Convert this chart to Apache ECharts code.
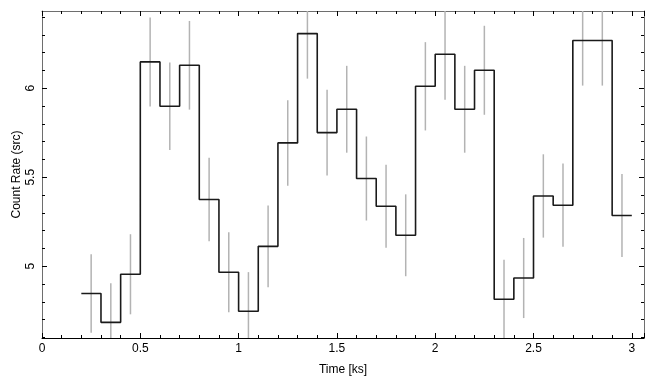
<!DOCTYPE html>
<html>
<head>
<meta charset="utf-8">
<script src="https://cdn.jsdelivr.net/npm/echarts@6/dist/echarts.min.js"></script>
<style>
html,body{margin:0;padding:0;background:#fff;}
#c{width:655px;height:385px;}
</style>
</head>
<body>
<div id="c"></div>
<script>
// Bin centres (ks), bin width 0.1 ks
const times = [0.25,0.35,0.45,0.55,0.65,0.75,0.85,0.95,1.05,1.15,1.25,1.35,1.45,1.55,1.65,1.75,1.85,1.95,2.05,2.15,2.25,2.35,2.45,2.55,2.65,2.75,2.85,2.95];
const binHalfWidth = 0.05;
const rates = [4.847,4.685,4.955,6.148,5.899,6.129,5.375,4.966,4.747,5.112,5.693,6.307,5.751,5.882,5.493,5.337,5.174,6.011,6.191,5.882,6.101,4.815,4.934,5.395,5.343,6.268,6.268,5.285];
const errors = [0.220,0.220,0.225,0.250,0.246,0.249,0.234,0.225,0.220,0.230,0.240,0.253,0.241,0.244,0.236,0.233,0.230,0.248,0.255,0.244,0.250,0.222,0.225,0.234,0.234,0.253,0.253,0.233];
const yMajorTicks = [5, 5.5, 6];
const yMinorTicks = [4.6,4.7,4.8,4.9,5.1,5.2,5.3,5.4,5.6,5.7,5.8,5.9,6.1,6.2,6.3,6.4];
const xRange = [0, 3.062];
const yRange = [4.597, 6.434];

const stepPts = [];
times.forEach((t, i) => {
  stepPts.push([t - binHalfWidth, rates[i]]);
  stepPts.push([t + binHalfWidth, rates[i]]);
});
const errData = times.map((t, i) => [t, rates[i] - errors[i], rates[i] + errors[i]]);

const FONT = '"Liberation Sans", Arial, Helvetica, sans-serif';
const frameGray = '#6e6e6e';

const chart = echarts.init(document.getElementById('c'), null, {renderer: 'canvas'});
const xBase = (pos, lineColor, showLabel) => ({
  type: 'value', position: pos, min: xRange[0], max: xRange[1], interval: 0.5,
  axisLine: {show: true, onZero: false, lineStyle: {color: lineColor, width: 1}},
  axisTick: {show: true, inside: true, length: 5, lineStyle: {color: '#000', width: 1}},
  minorTick: {show: true, splitNumber: 5, length: 3, lineStyle: {color: '#000', width: 1}},
  splitLine: {show: false}, minorSplitLine: {show: false},
  axisLabel: {show: showLabel, color: '#000', fontFamily: FONT, fontSize: 12, margin: 5}
});
const yBase = (pos, ticks, len, showLine, showLabel) => ({
  type: 'value', position: pos, min: yRange[0], max: yRange[1],
  axisLine: {show: showLine, onZero: false, lineStyle: {color: frameGray, width: 1}},
  axisTick: {show: true, inside: true, length: len, customValues: ticks, lineStyle: {color: '#000', width: 1}},
  splitLine: {show: false},
  axisLabel: {show: showLabel, customValues: showLabel ? yMajorTicks : undefined, rotate: 90,
    color: '#000', fontFamily: FONT, fontSize: 12, margin: 5}
});

const x0 = xBase('bottom', '#000', true);
x0.name = 'Time [ks]';
x0.nameLocation = 'middle';
x0.nameGap = 26;
x0.nameMoveOverlap = false;
x0.nameTextStyle = {color: '#000', fontFamily: FONT, fontSize: 12};
const x1 = xBase('top', frameGray, false);

const y0 = yBase('left', yMajorTicks, 5, true, true);
y0.name = 'Count Rate (src)';
y0.nameLocation = 'middle';
y0.nameRotate = 90;
y0.nameGap = 19;
y0.nameMoveOverlap = false;
y0.nameTextStyle = {color: '#000', fontFamily: FONT, fontSize: 12};
const y1 = yBase('left', yMinorTicks, 3, false, false);
const y2 = yBase('right', yMajorTicks, 5, true, false);
const y3 = yBase('right', yMinorTicks, 3, false, false);

chart.setOption({
  animation: false,
  backgroundColor: '#fff',
  grid: {left: 42, right: 11, top: 11, bottom: 47, containLabel: false, outerBoundsMode: 'none'},
  xAxis: [x0, x1],
  yAxis: [y0, y1, y2, y3],
  series: [
    {
      type: 'custom',
      xAxisIndex: 0, yAxisIndex: 0,
      data: errData,
      z: 2,
      renderItem: function (params, api) {
        const cs = params.coordSys;
        const p1 = api.coord([api.value(0), api.value(1)]);
        const p2 = api.coord([api.value(0), api.value(2)]);
        const top = cs.y, bot = cs.y + cs.height;
        const y1c = Math.min(Math.max(p1[1], top), bot);
        const y2c = Math.min(Math.max(p2[1], top), bot);
        return {
          type: 'line',
          shape: {x1: p1[0], y1: y1c, x2: p2[0], y2: y2c},
          style: {stroke: '#b3b3b3', lineWidth: 1.5}
        };
      }
    },
    {
      type: 'line',
      xAxisIndex: 0, yAxisIndex: 0,
      data: stepPts,
      showSymbol: false,
      symbol: 'none',
      z: 3,
      lineStyle: {color: '#1a1a1a', width: 1.6}
    }
  ]
});
</script>
</body>
</html>
